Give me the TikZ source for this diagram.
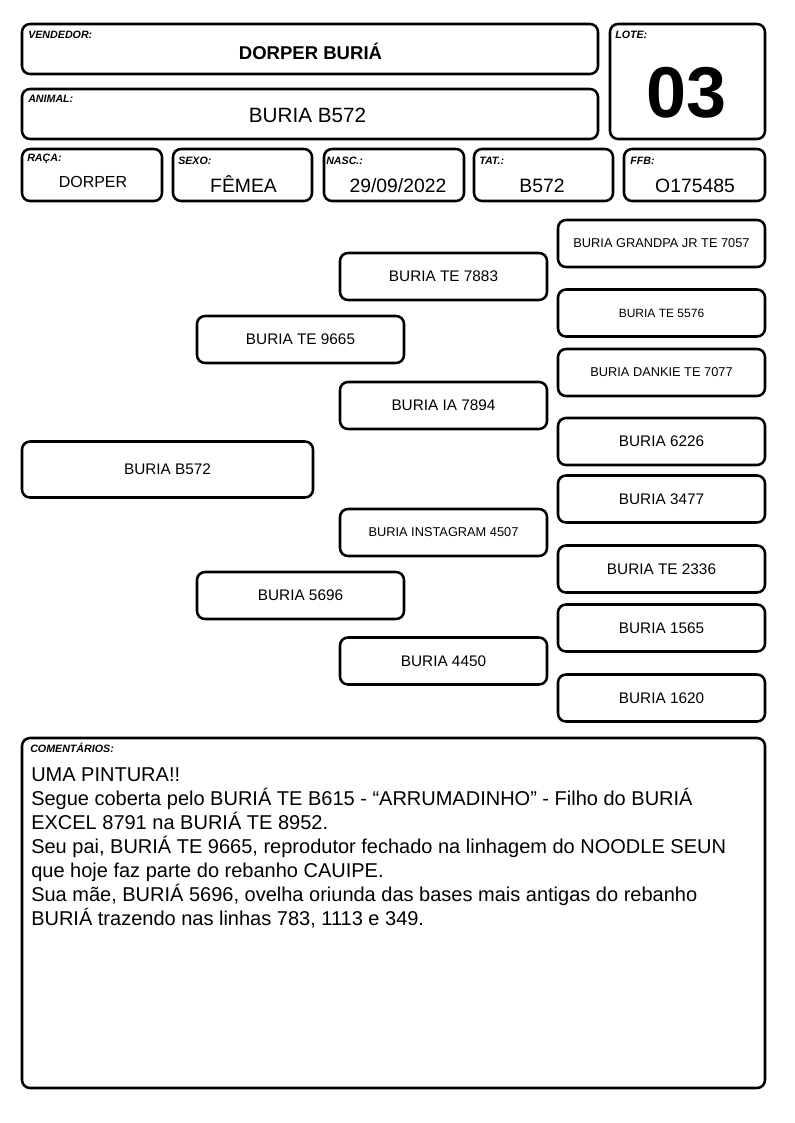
\documentclass[tikz,border=0pt]{standalone}
\usepackage{fontspec}
\setmainfont{Liberation Sans}
\usepackage{tikz}

\begin{document}
\begin{tikzpicture}[
        x=0.75pt,y=-0.75pt,
        box/.style={rectangle,draw,line width=1.9pt,rounded corners=6pt,inner sep=0pt},
        sz/.style 2 args={minimum width=#1*0.75pt,minimum height=#2*0.75pt},
        pbox/.style={box,sz={207}{47},font=\fontsize{11.5}{13}\selectfont},
        pboxs/.style={pbox,font=\fontsize{9.6}{11}\selectfont},
        lbl/.style={anchor=base west,inner sep=0pt,font=\fontsize{8}{9}\selectfont\bfseries\itshape},
        val/.style={anchor=base,inner sep=0pt,font=\fontsize{14.5}{16}\selectfont},
        ]
        \useasboundingbox (0,0) rectangle (794,1123);

        % Cabecalho
        \node[box,sz={576}{50}] (vend) at (310,49) {};
        \node[box,sz={576}{50}] (anim) at (310,114) {};
        \node[box,sz={155}{115}] (lote) at (687.5,81.5) {};
        \node[lbl] (vendlbl) at (28,39) {VENDEDOR:};
        \node[lbl] (animlbl) at (28,103) {ANIMAL:};
        \node[lbl] (lotelbl) at (615,39) {LOTE:};
        \node[val,font=\fontsize{13.9}{16}\selectfont\bfseries] (vendval) at (310.5,60) {DORPER BURIÁ};
        \node[val,font=\fontsize{15.5}{18}\selectfont] (animval) at (307.5,123) {BURIA B572};
        \node[val,font=\fontsize{54}{60}\selectfont\bfseries] (loteval) at (687,118) {03};

        % Dados do animal
        \node[box,sz={140}{52}] (raca) at (92,175) {};
        \node[box,sz={139}{52}] (sexo) at (242.5,175) {};
        \node[box,sz={140}{52}] (nasc) at (394,175) {};
        \node[box,sz={139}{52}] (tat) at (543.5,175) {};
        \node[box,sz={141}{52}] (ffb) at (694.5,175) {};
        \node[lbl] (racalbl) at (27,162) {RAÇA:};
        \node[lbl] (sexolbl) at (178,165) {SEXO:};
        \node[lbl] (nasclbl) at (326,165) {NASC.:};
        \node[lbl] (tatlbl) at (479,165) {TAT.:};
        \node[lbl] (ffblbl) at (630,165) {FFB:};
        \node[val,font=\fontsize{12}{14}\selectfont] (racaval) at (93,188) {DORPER};
        \node[val] (sexoval) at (243.5,193) {FÊMEA};
        \node[val] (nascval) at (398,193) {29/09/2022};
        \node[val] (tatval) at (542,193) {B572};
        \node[val] (ffbval) at (695,193) {O175485};

        % Genealogia: animal, pais, avos
        \node[box,sz={291}{56},font=\fontsize{11.5}{13}\selectfont] (animal) at (167.5,469.5) {BURIA B572};
        \node[pbox] (sire) at (300.5,339.5) {BURIA TE 9665};
        \node[pbox] (dam) at (300.5,595.5) {BURIA 5696};
        \node[pbox] (ss) at (443.5,276.5) {BURIA TE 7883};
        \node[pbox] (sd) at (443.5,405.5) {BURIA IA 7894};
        \node[pboxs] (ds) at (443.5,532.5) {BURIA INSTAGRAM 4507};
        \node[pbox] (dd) at (443.5,661) {BURIA 4450};

        % Bisavos
        \node[pboxs] (sss) at (661.5,243.5) {BURIA GRANDPA JR TE 7057};
        \node[pboxs,font=\fontsize{9}{11}\selectfont] (ssd) at (661.5,313) {BURIA TE 5576};
        \node[pboxs] (sds) at (661.5,372.5) {BURIA DANKIE TE 7077};
        \node[pbox] (sdd) at (661.5,441.5) {BURIA 6226};
        \node[pbox] (dss) at (661.5,499) {BURIA 3477};
        \node[pbox] (dsd) at (661.5,569) {BURIA TE 2336};
        \node[pbox] (dds) at (661.5,628) {BURIA 1565};
        \node[pbox] (ddd) at (661.5,698) {BURIA 1620};

        % Comentarios
        \node[box,sz={743}{350}] (coment) at (393.5,913) {};
        \node[lbl] (comentlbl) at (30,752) {COMENTÁRIOS:};
        \node[anchor=north west,inner sep=0pt,align=left,font=\fontsize{15}{18}\selectfont] (comenttxt) at (31,767) {UMA PINTURA!!\\
            Segue coberta pelo BURIÁ TE B615 - “ARRUMADINHO” - Filho do BURIÁ\\
            EXCEL 8791 na BURIÁ TE 8952.\\
            Seu pai, BURIÁ TE 9665, reprodutor fechado na linhagem do NOODLE SEUN\\
            que hoje faz parte do rebanho CAUIPE.\\
            Sua mãe, BURIÁ 5696, ovelha oriunda das bases mais antigas do rebanho\\
            BURIÁ trazendo nas linhas 783, 1113 e 349.};
    \end{tikzpicture}
\end{document}
